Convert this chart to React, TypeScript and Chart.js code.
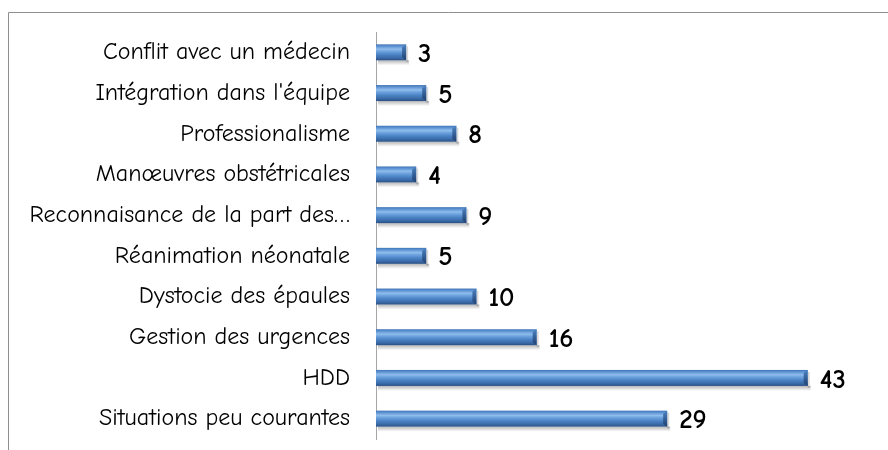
import React, { useEffect, useRef } from "react";
import { Chart, registerables } from "chart.js";

Chart.register(...registerables);

const categories = [
  "Conflit avec un médecin",
  "Intégration dans l'équipe",
  "Professionalisme",
  "Manœuvres obstétricales",
  "Reconnaisance de la part des…",
  "Réanimation néonatale",
  "Dystocie des épaules",
  "Gestion des urgences",
  "HDD",
  "Situations peu courantes",
];
const values = [3, 5, 8, 4, 9, 5, 10, 16, 43, 29];

const FONT = "'Comic Sans MS', 'Comic Neue', 'DejaVu Sans', sans-serif";

const framePlugin = {
  id: "frame",
  beforeDraw(chart: any) {
    const ctx = chart.ctx;
    ctx.save();
    ctx.strokeStyle = "#8f8f8f";
    ctx.lineWidth = 1;
    ctx.beginPath();
    ctx.moveTo(8.5, 450);
    ctx.lineTo(8.5, 12.5);
    ctx.lineTo(888, 12.5);
    ctx.stroke();
    ctx.restore();
  },
};

const barStylePlugin = {
  id: "barStyle",
  beforeDatasetsDraw(chart: any) {
    const ctx = chart.ctx;
    const meta = chart.getDatasetMeta(0);
    ctx.save();
    meta.data.forEach((el: any) => {
      const { x, y, base, height } = el.getProps(["x", "y", "base", "height"], true);
      const top = y - height / 2;
      const g = ctx.createLinearGradient(0, top + height, 0, top + height + 5);
      g.addColorStop(0, "rgba(0,0,0,0.28)");
      g.addColorStop(1, "rgba(0,0,0,0)");
      ctx.fillStyle = g;
      ctx.fillRect(base + 2, top + height, x - base + 1, 5);
      ctx.fillStyle = "rgba(0,0,0,0.15)";
      ctx.fillRect(x, top + 2, 2, height);
    });
    ctx.restore();
  },
  afterDatasetsDraw(chart: any) {
    const ctx = chart.ctx;
    const meta = chart.getDatasetMeta(0);
    const data = chart.data.datasets[0].data;
    ctx.save();
    meta.data.forEach((el: any, i: number) => {
      const { x, y, base, height } = el.getProps(["x", "y", "base", "height"], true);
      const top = y - height / 2;
      const w = x - base;
      const g = ctx.createLinearGradient(0, top, 0, top + height);
      g.addColorStop(0, "#3f74b6");
      g.addColorStop(0.12, "#5d93d3");
      g.addColorStop(0.3, "#8fbdec");
      g.addColorStop(0.45, "#6aa0dc");
      g.addColorStop(0.65, "#4a82c4");
      g.addColorStop(0.85, "#3a6aa8");
      g.addColorStop(1, "#2a4f82");
      ctx.fillStyle = g;
      ctx.fillRect(base, top, w, height);
      const bw = Math.min(4, w / 3);
      const g2 = ctx.createLinearGradient(0, top, 0, top + height);
      g2.addColorStop(0, "#4c82c2");
      g2.addColorStop(1, "#1f3f6e");
      ctx.fillStyle = g2;
      ctx.beginPath();
      ctx.moveTo(x - bw, top + 3);
      ctx.lineTo(x, top);
      ctx.lineTo(x, top + height);
      ctx.lineTo(x - bw, top + height - 3);
      ctx.closePath();
      ctx.fill();
      ctx.fillStyle = "#000";
      ctx.font = `bold 27px ${FONT}`;
      ctx.textAlign = "left";
      ctx.textBaseline = "middle";
      ctx.fillText(String(data[i]), x + 12, y + 2);
    });
    ctx.restore();
  },
};

export default function App() {
  const ref = useRef<HTMLCanvasElement>(null);
  useEffect(() => {
    if (!ref.current) return;
    const chart = new Chart(ref.current, {
      type: "bar",
      data: {
        labels: categories,
        datasets: [
          {
            data: values,
            backgroundColor: "rgba(0,0,0,0)",
            borderWidth: 0,
            barThickness: 16,
          },
        ],
      },
      options: {
        indexAxis: "y",
        animation: false,
        responsive: false,
        layout: { padding: { top: 32, bottom: 11, left: 0, right: 10 } },
        plugins: { legend: { display: false }, tooltip: { enabled: false } },
        scales: {
          x: {
            display: false,
            min: 0,
            max: 50,
          },
          y: {
            afterFit(scale: any) {
              scale.width = 376;
              scale.paddingTop = 0;
              scale.paddingBottom = 0;
            },
            grid: { display: false, drawTicks: false },
            border: { display: true, color: "#a6a6a6", width: 1 },
            ticks: {
              color: "#000",
              padding: 26,
              font: { family: FONT, size: 24 },
            },
          },
        },
      },
      plugins: [framePlugin, barStylePlugin],
    });
    return () => chart.destroy();
  }, []);
  return (
    <div style={{ position: "fixed", left: 0, top: 0, width: 888, height: 450, background: "#fff" }}>
      <canvas ref={ref} width={888} height={450} style={{ width: 888, height: 450 }} />
    </div>
  );
}
